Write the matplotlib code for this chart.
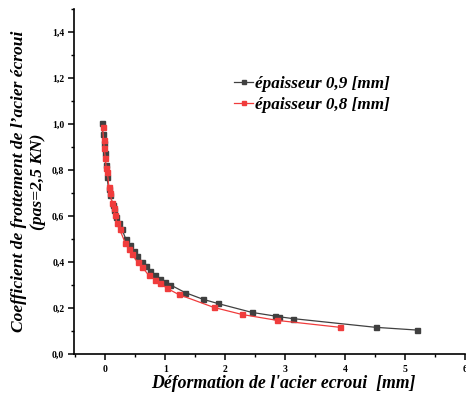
import numpy as np
import matplotlib
matplotlib.use("Agg")
import matplotlib.pyplot as plt
from matplotlib.ticker import MultipleLocator, FuncFormatter

# épaisseur 0,9 mm
x09 = [-0.055, -0.044, -0.028, -0.011, 0.006, 0.028, 0.056, 0.083, 0.128, 0.15,
       0.183, 0.222, 0.278, 0.344, 0.406, 0.472, 0.528, 0.611, 0.678, 0.75,
       0.833, 0.917, 1.0, 1.083, 1.333, 1.63, 1.872, 2.444, 2.833, 2.9,
       3.128, 4.51, 5.206]
y09 = [1.003, 0.957, 0.916, 0.872, 0.822, 0.771, 0.716, 0.691, 0.648, 0.626,
       0.597, 0.571, 0.542, 0.499, 0.474, 0.449, 0.428, 0.401, 0.384, 0.361,
       0.343, 0.326, 0.314, 0.301, 0.267, 0.238, 0.220, 0.181, 0.165, 0.162,
       0.154, 0.116, 0.104]

# épaisseur 0,8 mm
x08 = [-0.044, -0.028, -0.017, 0.0, 0.017, 0.033, 0.061, 0.083, 0.111, 0.139,
       0.167, 0.194, 0.239, 0.333, 0.389, 0.444, 0.539, 0.611, 0.722, 0.833,
       0.917, 1.028, 1.222, 1.806, 2.278, 2.872, 3.917]
y08 = [0.985, 0.930, 0.894, 0.854, 0.807, 0.793, 0.728, 0.699, 0.658, 0.633,
       0.604, 0.568, 0.542, 0.484, 0.455, 0.435, 0.399, 0.380, 0.343, 0.322,
       0.307, 0.286, 0.259, 0.203, 0.172, 0.146, 0.116]

serif = ["Liberation Serif", "DejaVu Serif"]

fig = plt.figure(figsize=(4.66, 3.94), dpi=100)
ax = fig.add_axes([0.159, 0.1015, 0.839, 0.8755])

ax.plot(x09, y09, color="#404040", marker="s", markersize=3.6, linewidth=0.9,
        label="épaisseur 0,9 [mm]")
ax.plot(x08, y08, color="#f03c3c", marker="s", markersize=3.6, linewidth=0.9,
        label="épaisseur 0,8 [mm]")

ax.set_xlim(-0.52, 6.0)
ax.set_ylim(0, 1.5)
ax.xaxis.set_major_locator(MultipleLocator(1))
ax.xaxis.set_minor_locator(MultipleLocator(0.5))
ax.yaxis.set_major_locator(MultipleLocator(0.2))
ax.yaxis.set_minor_locator(MultipleLocator(0.1))
ax.xaxis.set_major_formatter(FuncFormatter(lambda v, p: f"{v:.0f}"))
ax.yaxis.set_major_formatter(FuncFormatter(lambda v, p: f"{v:.1f}".replace(".", ",")))

ax.spines["top"].set_visible(False)
ax.spines["right"].set_visible(False)
ax.spines["left"].set_linewidth(1.2)
ax.spines["bottom"].set_linewidth(1.2)
ax.tick_params(axis="both", which="major", direction="out", length=4, width=1.1)
ax.tick_params(axis="x", which="major", pad=4)
ax.tick_params(axis="y", which="major", pad=3)
ax.tick_params(axis="both", which="minor", direction="out", length=2.5, width=1.0)
for lab in ax.get_xticklabels() + ax.get_yticklabels():
    lab.set_family(serif)
    lab.set_fontweight("bold")
    lab.set_fontsize(7)

ax.set_xlabel("Déformation de l'acier ecroui  [mm]", family=serif, fontsize=12.8,
              fontweight="bold", style="italic")
ax.xaxis.set_label_coords(0.536, -0.062)
ax.set_ylabel("Coefficient de frottement de l’acier écroui\n(pas=2,5 KN)", family=serif,
              fontsize=12.6, fontweight="bold", style="italic", labelpad=4.5)

leg = ax.legend(loc="upper left", bbox_to_anchor=(0.37, 0.85), frameon=False,
                prop={"family": serif, "weight": "bold", "style": "italic", "size": 12.3},
                handlelength=1.1, handletextpad=0.15, labelspacing=0.3, markerscale=0.8)

fig.savefig("out.png", dpi=100)
